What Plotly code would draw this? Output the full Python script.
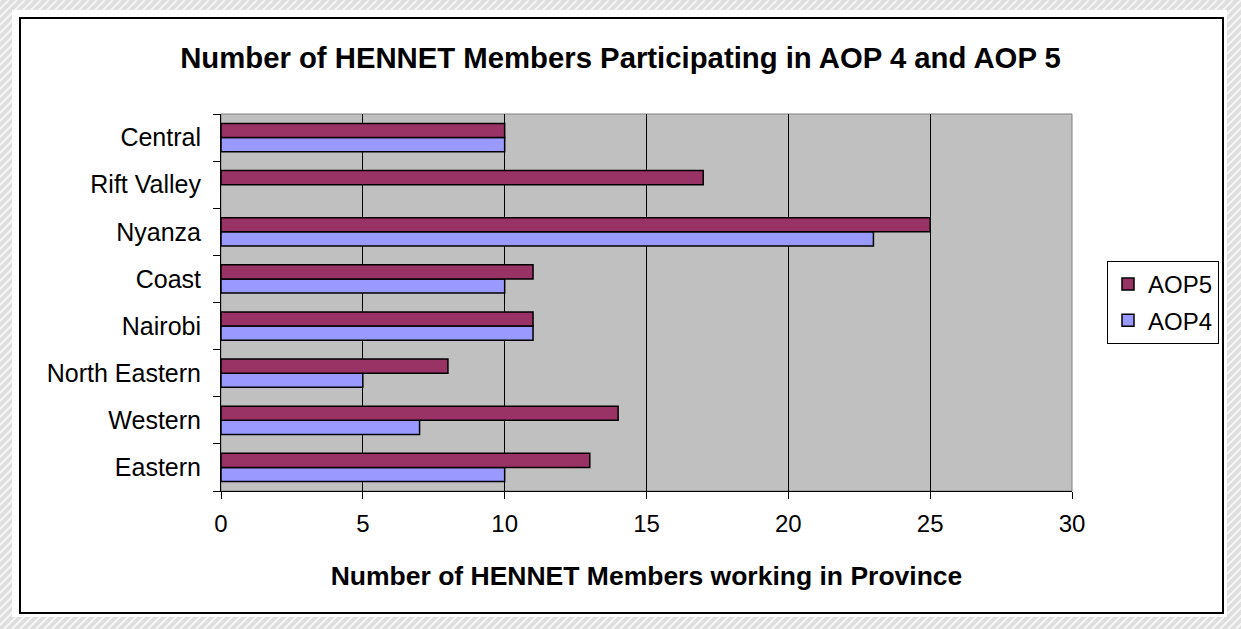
import plotly.graph_objects as go

provinces = ["Eastern", "Western", "North Eastern", "Nairobi", "Coast", "Nyanza", "Rift Valley", "Central"]
aop4 = [10, 7, 5, 11, 10, 23, None, 10]
aop5 = [13, 14, 8, 11, 11, 25, 17, 10]

W, H = 1241, 629
L, R, T, B = 221, 1072, 114, 491

def xp(px):
    return (px - L) / (R - L)

def yp(py):
    return (B - py) / (B - T)

fig = go.Figure()
fig.add_trace(go.Bar(y=provinces, x=aop4, orientation="h", name="AOP4",
                     marker=dict(color="#9999FF", line=dict(color="black", width=1.5)),
                     legendgroup="a4", legendrank=2))
fig.add_trace(go.Bar(y=provinces, x=aop5, orientation="h", name="AOP5",
                     marker=dict(color="#993366", line=dict(color="black", width=1.5)),
                     legendgroup="a5", legendrank=1))

# hatched background stripes
segs = []
for k in range(-700, 1300, 8):
    segs.append(f"M{xp(k):.5f},{yp(H):.5f} L{xp(k + H):.5f},{yp(0):.5f}")
shapes = [
    dict(type="path", xref="paper", yref="paper", path=" ".join(segs),
         line=dict(color="#F6F6F6", width=2), layer="below"),
    dict(type="rect", xref="paper", yref="paper", x0=xp(12), x1=xp(1227), y0=yp(617), y1=yp(10),
         fillcolor="white", line=dict(width=0), layer="below"),
    dict(type="rect", xref="paper", yref="paper", x0=xp(20), x1=xp(1223), y0=yp(613), y1=yp(18),
         fillcolor="white", line=dict(color="black", width=2), layer="below"),
    dict(type="rect", xref="paper", yref="paper", x0=0, x1=1, y0=0, y1=1,
         fillcolor="#C0C0C0", line=dict(color="#808080", width=1), layer="below"),
]

fig.update_layout(
    width=W, height=H,
    margin=dict(l=L, r=W - R, t=T, b=H - B),
    paper_bgcolor="#DEDEDE",
    plot_bgcolor="rgba(0,0,0,0)",
    barmode="group", bargap=0.4, bargroupgap=0,
    font=dict(family="Arial, Liberation Sans, sans-serif", color="black", size=24),
    title=dict(text="<b>Number of HENNET Members Participating in AOP 4 and AOP 5</b>",
               x=0.5, xref="container", xanchor="center",
               y=1 - 58 / H, yref="container", yanchor="middle",
               font=dict(size=29.3, color="black")),
    xaxis=dict(range=[0, 30], dtick=5, tick0=0, showgrid=True, gridcolor="black", gridwidth=1,
               showline=True, linecolor="black", linewidth=1, ticks="outside", ticklen=7,
               tickcolor="black", zeroline=False, tickfont=dict(size=24),
               ticklabelstandoff=4,
               title=dict(text="<b>Number of HENNET Members working in Province</b>",
                          font=dict(size=26.5), standoff=30)),
    yaxis=dict(showline=True, linecolor="black", linewidth=1, ticks="outside", ticklen=7,
               tickcolor="black", tickson="boundaries", showgrid=False,
               tickfont=dict(size=25), ticklabelstandoff=14),
    legend=dict(x=xp(1107), y=yp(261), xanchor="left", yanchor="top",
                bordercolor="black", borderwidth=1, bgcolor="white",
                traceorder="grouped", tracegroupgap=2,
                font=dict(size=24)),
    shapes=shapes,
)

fig.write_html("out.html")
